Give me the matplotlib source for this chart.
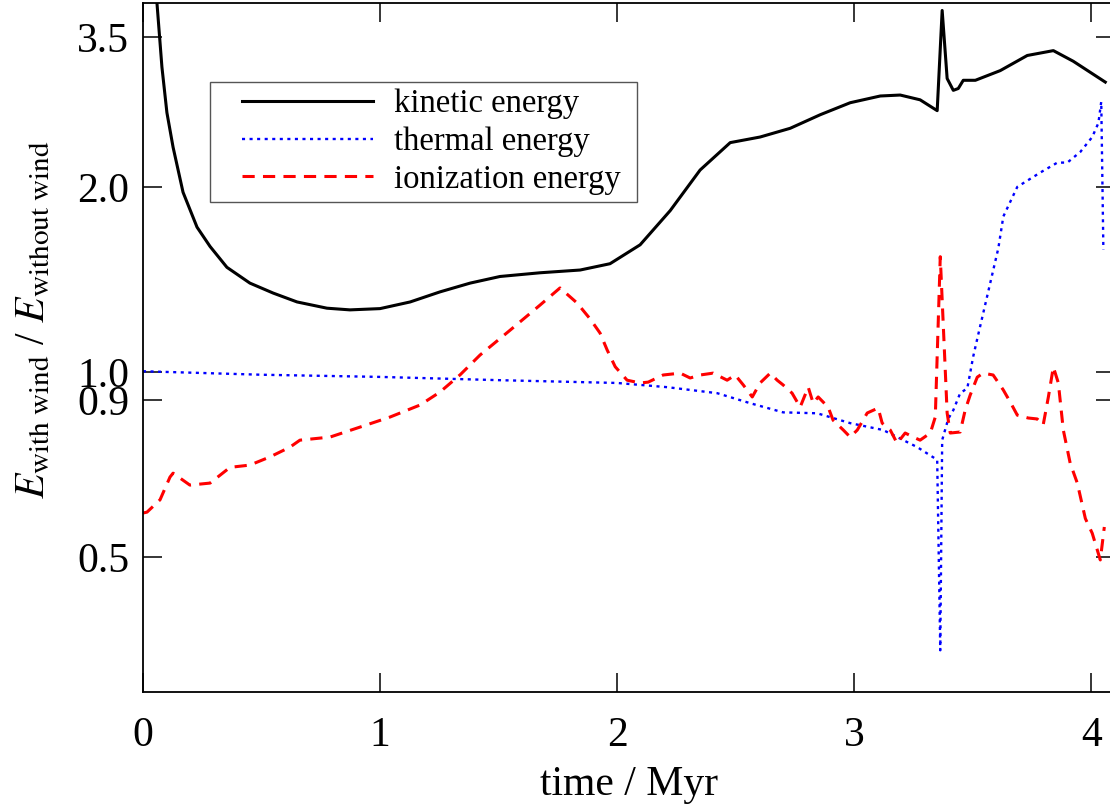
import numpy as np
import matplotlib
matplotlib.use("Agg")
import matplotlib.pyplot as plt
from matplotlib.patches import Rectangle

plt.rcParams['font.family'] = ['Liberation Serif', 'DejaVu Serif']
plt.rcParams['mathtext.fontset'] = 'stix'

# kinetic energy ratio
t_kin = [0.045, 0.059, 0.080, 0.101, 0.127, 0.169, 0.228, 0.283, 0.354, 0.451,
         0.549, 0.650, 0.776, 0.873, 1.000, 1.127, 1.253, 1.380, 1.506, 1.675,
         1.844, 1.970, 2.097, 2.224, 2.350, 2.477, 2.603, 2.730, 2.857, 2.983,
         3.110, 3.194, 3.278, 3.350, 3.371, 3.392, 3.418, 3.439, 3.460, 3.511,
         3.616, 3.730, 3.840, 3.924, 4.059]
e_kin = [4.6, 3.98, 3.13, 2.64, 2.32, 1.96, 1.72, 1.60, 1.48, 1.395,
         1.344, 1.30, 1.27, 1.262, 1.268, 1.30, 1.35, 1.395, 1.43, 1.45,
         1.465, 1.50, 1.61, 1.83, 2.13, 2.36, 2.41, 2.49, 2.62, 2.74,
         2.81, 2.82, 2.77, 2.66, 3.87, 3.0, 2.87, 2.89, 2.98, 2.98,
         3.09, 3.27, 3.33, 3.20, 2.96]

# thermal energy ratio
t_th = [0.0, 0.5, 1.0, 1.506, 2.0, 2.211, 2.422, 2.561, 2.700, 2.844,
        2.983, 3.122, 3.266, 3.350, 3.363, 3.371, 3.397, 3.418, 3.447, 3.477,
        3.489, 3.502, 3.523, 3.608, 3.629, 3.688, 3.785, 3.857, 3.899, 3.954,
        4.004, 4.030, 4.042, 4.051]
e_th = [1.003, 0.99, 0.982, 0.97, 0.96, 0.945, 0.924, 0.89, 0.86, 0.857,
        0.826, 0.805, 0.755, 0.72, 0.353, 0.775, 0.84, 0.867, 0.924, 0.941,
        0.996, 1.06, 1.15, 1.59, 1.79, 2.0, 2.11, 2.19, 2.19, 2.28,
        2.41, 2.54, 2.75, 1.58]

# ionization energy ratio
t_ion = [0.0, 0.017, 0.072, 0.114, 0.127, 0.198, 0.283, 0.367, 0.451, 0.536,
         0.620, 0.662, 0.789, 0.916, 1.042, 1.169, 1.253, 1.338, 1.422, 1.549,
         1.675, 1.759, 1.831, 1.886, 1.928, 1.958, 1.992, 2.042, 2.097, 2.131,
         2.194, 2.266, 2.308, 2.350, 2.405, 2.464, 2.498, 2.532, 2.570, 2.603,
         2.646, 2.675, 2.700, 2.738, 2.772, 2.806, 2.827, 2.848, 2.890, 2.911,
         2.954, 2.983, 3.013, 3.055, 3.101, 3.118, 3.152, 3.181, 3.215, 3.249,
         3.278, 3.321, 3.342, 3.363, 3.392, 3.405, 3.447, 3.468, 3.489, 3.519,
         3.544, 3.586, 3.629, 3.658, 3.688, 3.734, 3.772, 3.797, 3.819, 3.840,
         3.861, 3.882, 3.911, 3.941, 3.975, 4.004, 4.038, 4.055]
e_ion = [0.59, 0.592, 0.62, 0.675, 0.685, 0.655, 0.66, 0.70, 0.706, 0.728,
         0.755, 0.775, 0.784, 0.814, 0.845, 0.884, 0.928, 0.99, 1.066, 1.17,
         1.285, 1.37, 1.295, 1.22, 1.157, 1.086, 1.02, 0.970, 0.960, 0.963,
         0.989, 0.996, 0.978, 0.989, 0.996, 0.970, 0.989, 0.953, 0.911, 0.960,
         0.996, 0.970, 0.953, 0.924, 0.877, 0.945, 0.890, 0.911, 0.877, 0.835,
         0.805, 0.784, 0.805, 0.858, 0.874, 0.826, 0.805, 0.766, 0.796, 0.784,
         0.775, 0.796, 0.845, 1.54, 0.858, 0.796, 0.799, 0.867, 0.917, 0.981,
         0.996, 0.989, 0.935, 0.894, 0.851, 0.842, 0.839, 0.820, 0.911, 1.019,
         0.960, 0.805, 0.711, 0.660, 0.578, 0.547, 0.495, 0.56]

y_ticks = [0.5, 0.9, 1.0, 2.0, 3.5]
y_labels = ["0.5", "0.9", "1.0", "2.0", "3.5"]
x_ticks = [0, 1, 2, 3, 4]

fig = plt.figure(figsize=(11.1, 8.05), dpi=100)
ax = fig.add_axes([0.1288, 0.1404, 0.8757, 0.8559])

ax.plot(t_kin, e_kin, color="black", lw=2.2, label="kinetic energy")
ax.plot(t_th, e_th, color="blue", lw=1.7, linestyle=(0, (1.3, 1.9)), label="thermal energy")
ax.plot(t_ion, e_ion, color="red", lw=2.2, linestyle=(0, (4.0, 2.7)), label="ionization energy")

ax.set_yscale("log")
ax.set_xlim(0, 4.1)
ax.set_ylim(0.302, 3.98)
ax.set_yticks(y_ticks)
ax.set_yticklabels(y_labels)
ax.yaxis.set_minor_locator(matplotlib.ticker.NullLocator())
ax.set_xticks(x_ticks)

ax.tick_params(direction="in", length=13.5, width=1.1, labelsize=30,
               top=True, right=True)
ax.tick_params(axis="x", pad=18)
ax.tick_params(axis="y", pad=10)
for s in ax.spines.values():
    s.set_linewidth(1.3)

ax.set_xlabel("time / Myr", fontsize=30, labelpad=7)
ax.set_ylabel(r"$E_\mathrm{with\ wind}$ / $E_\mathrm{without\ wind}$", fontsize=30)
ax.yaxis.set_label_coords(-0.092, 0.54)

# legend frame drawn separately so the handles sit inset like the original
ax.add_patch(Rectangle((0.0689, 0.711), 0.4393, 0.174, transform=ax.transAxes,
                       facecolor="white", edgecolor="#555555", lw=1.0, zorder=4))
leg = ax.legend(loc="upper left", bbox_to_anchor=(0.0936, 0.887), borderaxespad=0,
                fontsize=23.5, handlelength=4.0, handletextpad=0.65, labelspacing=0.22,
                frameon=False, borderpad=0.25)
leg.set_zorder(5)

fig.savefig("out.png", dpi=100)
